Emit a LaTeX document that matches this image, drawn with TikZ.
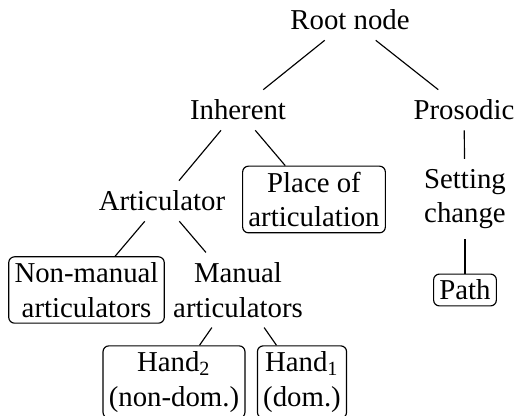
\documentclass[tikz,border=0pt]{standalone}
\usepackage{fontspec}
\setmainfont{Liberation Serif}
\begin{document}
\begin{tikzpicture}[x=0.3472pt,y=-0.3472pt,
  plain/.style={align=center},
  boxed/.style={draw,rounded corners=2pt,inner sep=2pt,align=center},
  edge/.style={draw,line width=0.4pt}]
\useasboundingbox (0,0) rectangle (518,416);
\node[plain] (root) at (350,20) {Root node};
\node[plain] (inh) at (238,110) {Inherent};
\node[plain] (pro) at (464,110) {Prosodic};
\node[plain] (art) at (162,201) {Articulator};
\node[boxed] (place) at (314,199.5) {Place of\\articulation};
\node[plain] (set) at (465,199) {Setting\\change};
\node[boxed] (nonman) at (86.5,290) {Non-manual\\articulators};
\node[plain] (man) at (238,290) {Manual\\articulators};
\node[boxed] (path) at (465,290) {Path};
\node[boxed] (h2) at (174,382) {Hand\textsubscript{2}\\(non-dom.)};
\node[boxed] (h1) at (302,382) {Hand\textsubscript{1}\\(dom.)};
\draw[edge] (root) -- (inh);
\draw[edge] (root) -- (pro);
\draw[edge] (inh) -- (art);
\draw[edge] (inh) -- (place);
\draw[edge] (pro) -- (set);
\draw[edge] (art) -- (nonman);
\draw[edge] (art) -- (man);
\draw[edge] (set) -- (path);
\draw[edge] (man) -- (h2);
\draw[edge] (man) -- (h1);
\end{tikzpicture}
\end{document}
